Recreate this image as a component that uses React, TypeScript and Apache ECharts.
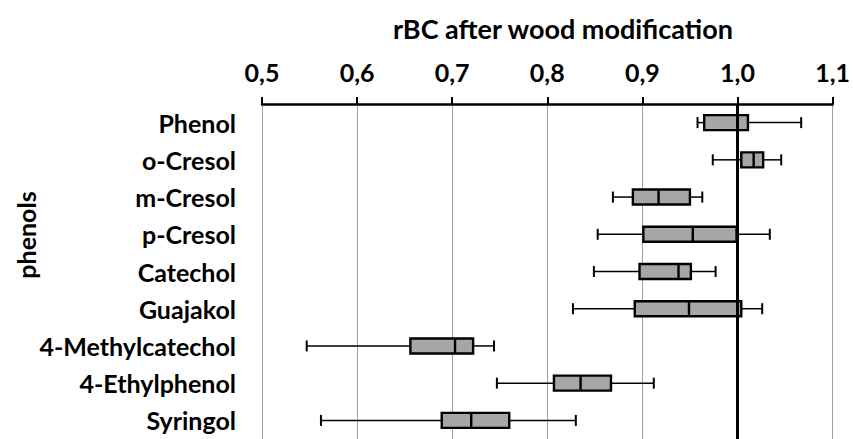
import React, { useEffect, useRef } from "react";
import * as echarts from "echarts";

const categories = [
  "Phenol",
  "o-Cresol",
  "m-Cresol",
  "p-Cresol",
  "Catechol",
  "Guajakol",
  "4-Methylcatechol",
  "4-Ethylphenol",
  "Syringol",
];
const mins = [0.958, 0.974, 0.869, 0.853, 0.849, 0.827, 0.547, 0.747, 0.562];
const q1s = [0.965, 1.004, 0.89, 0.901, 0.897, 0.892, 0.656, 0.807, 0.689];
const medians = [1.0, 1.017, 0.917, 0.953, 0.938, 0.949, 0.703, 0.835, 0.72];
const q3s = [1.011, 1.027, 0.95, 0.999, 0.951, 1.004, 0.722, 0.867, 0.76];
const maxs = [1.067, 1.046, 0.963, 1.034, 0.977, 1.026, 0.744, 0.912, 0.83];
const xTicks = [0.5, 0.6, 0.7, 0.8, 0.9, 1.0, 1.1];
const referenceValue = 1.0;
const titleText = "rBC after wood modification";
const yName = "phenols";

const FONT = "Lato";

export default function App() {
  const ref = useRef<HTMLDivElement>(null);
  useEffect(() => {
    document.body.style.margin = "0";
    document.body.style.overflow = "hidden";
    if (!ref.current) return;
    const chart = echarts.init(ref.current, null, { renderer: "svg" });
    const data = categories.map((_, i) => [i, mins[i], q1s[i], medians[i], q3s[i], maxs[i]]);
    const option: any = {
      animation: false,
      backgroundColor: "#ffffff",
      grid: { left: 262, top: 104, width: 572, height: 342, containLabel: false },
      xAxis: {
        type: "value",
        position: "top",
        min: xTicks[0],
        max: xTicks[xTicks.length - 1],
        interval: 0.1,
        axisLine: { show: true, lineStyle: { color: "#000", width: 2.5 } },
        axisTick: { show: true, inside: false, length: 7, lineStyle: { color: "#000", width: 2 } },
        axisLabel: {
          margin: 20,
          fontFamily: FONT,
          fontWeight: "bold",
          fontSize: 25,
          color: "#000",
          formatter: (v: number) => v.toFixed(1).replace(".", ","),
        },
        splitLine: { show: true, lineStyle: { color: "#a0a0a0", width: 1 } },
      },
      yAxis: {
        type: "category",
        data: categories,
        inverse: true,
        axisLine: { show: false },
        axisTick: { show: false },
        splitLine: { show: false },
        axisLabel: {
          margin: 26,
          fontFamily: FONT,
          fontWeight: "bold",
          fontSize: 25,
          color: "#000",
        },
      },
      graphic: [
        {
          type: "text",
          x: 563,
          y: 28,
          style: {
            text: titleText,
            fontFamily: FONT,
            fontWeight: "bold",
            fontSize: 27,
            fill: "#000",
            align: "center",
            verticalAlign: "middle",
          },
        },
        {
          type: "text",
          x: 26,
          y: 235,
          rotation: Math.PI / 2,
          style: {
            text: yName,
            fontFamily: FONT,
            fontWeight: "bold",
            fontSize: 25,
            fill: "#000",
            align: "center",
            verticalAlign: "middle",
          },
        },
      ],
      series: [
        {
          type: "custom",
          data,
          encode: { x: [1, 2, 3, 4, 5], y: 0 },
          renderItem: (params: any, api: any) => {
            const idx = api.value(0);
            const pMin = api.coord([api.value(1), idx]);
            const pQ1 = api.coord([api.value(2), idx]);
            const pMed = api.coord([api.value(3), idx]);
            const pQ3 = api.coord([api.value(4), idx]);
            const pMax = api.coord([api.value(5), idx]);
            const y = pMin[1];
            const bh = 15;
            const ch = 11;
            const line = (x1: number, y1: number, x2: number, y2: number, w: number) => ({
              type: "line",
              shape: { x1, y1, x2, y2 },
              style: { stroke: "#000", lineWidth: w },
            });
            return {
              type: "group",
              children: [
                line(pMin[0], y, pQ1[0], y, 1.5),
                line(pQ3[0], y, pMax[0], y, 1.5),
                line(pMin[0], y - ch / 2, pMin[0], y + ch / 2, 2),
                line(pMax[0], y - ch / 2, pMax[0], y + ch / 2, 2),
                {
                  type: "rect",
                  shape: { x: pQ1[0], y: y - bh / 2, width: pQ3[0] - pQ1[0], height: bh },
                  style: { fill: "#a6a6a6", stroke: "#000", lineWidth: 2.4 },
                },
                line(pMed[0], y - bh / 2, pMed[0], y + bh / 2, 2.4),
              ],
            };
          },
          markLine: {
            silent: true,
            symbol: "none",
            label: { show: false },
            lineStyle: { color: "#000", width: 3, type: "solid" },
            data: [{ xAxis: referenceValue }],
            z: 10,
          },
        },
      ],
    };
    chart.setOption(option);
    return () => chart.dispose();
  }, []);
  return <div ref={ref} style={{ width: 853, height: 439 }} />;
}
